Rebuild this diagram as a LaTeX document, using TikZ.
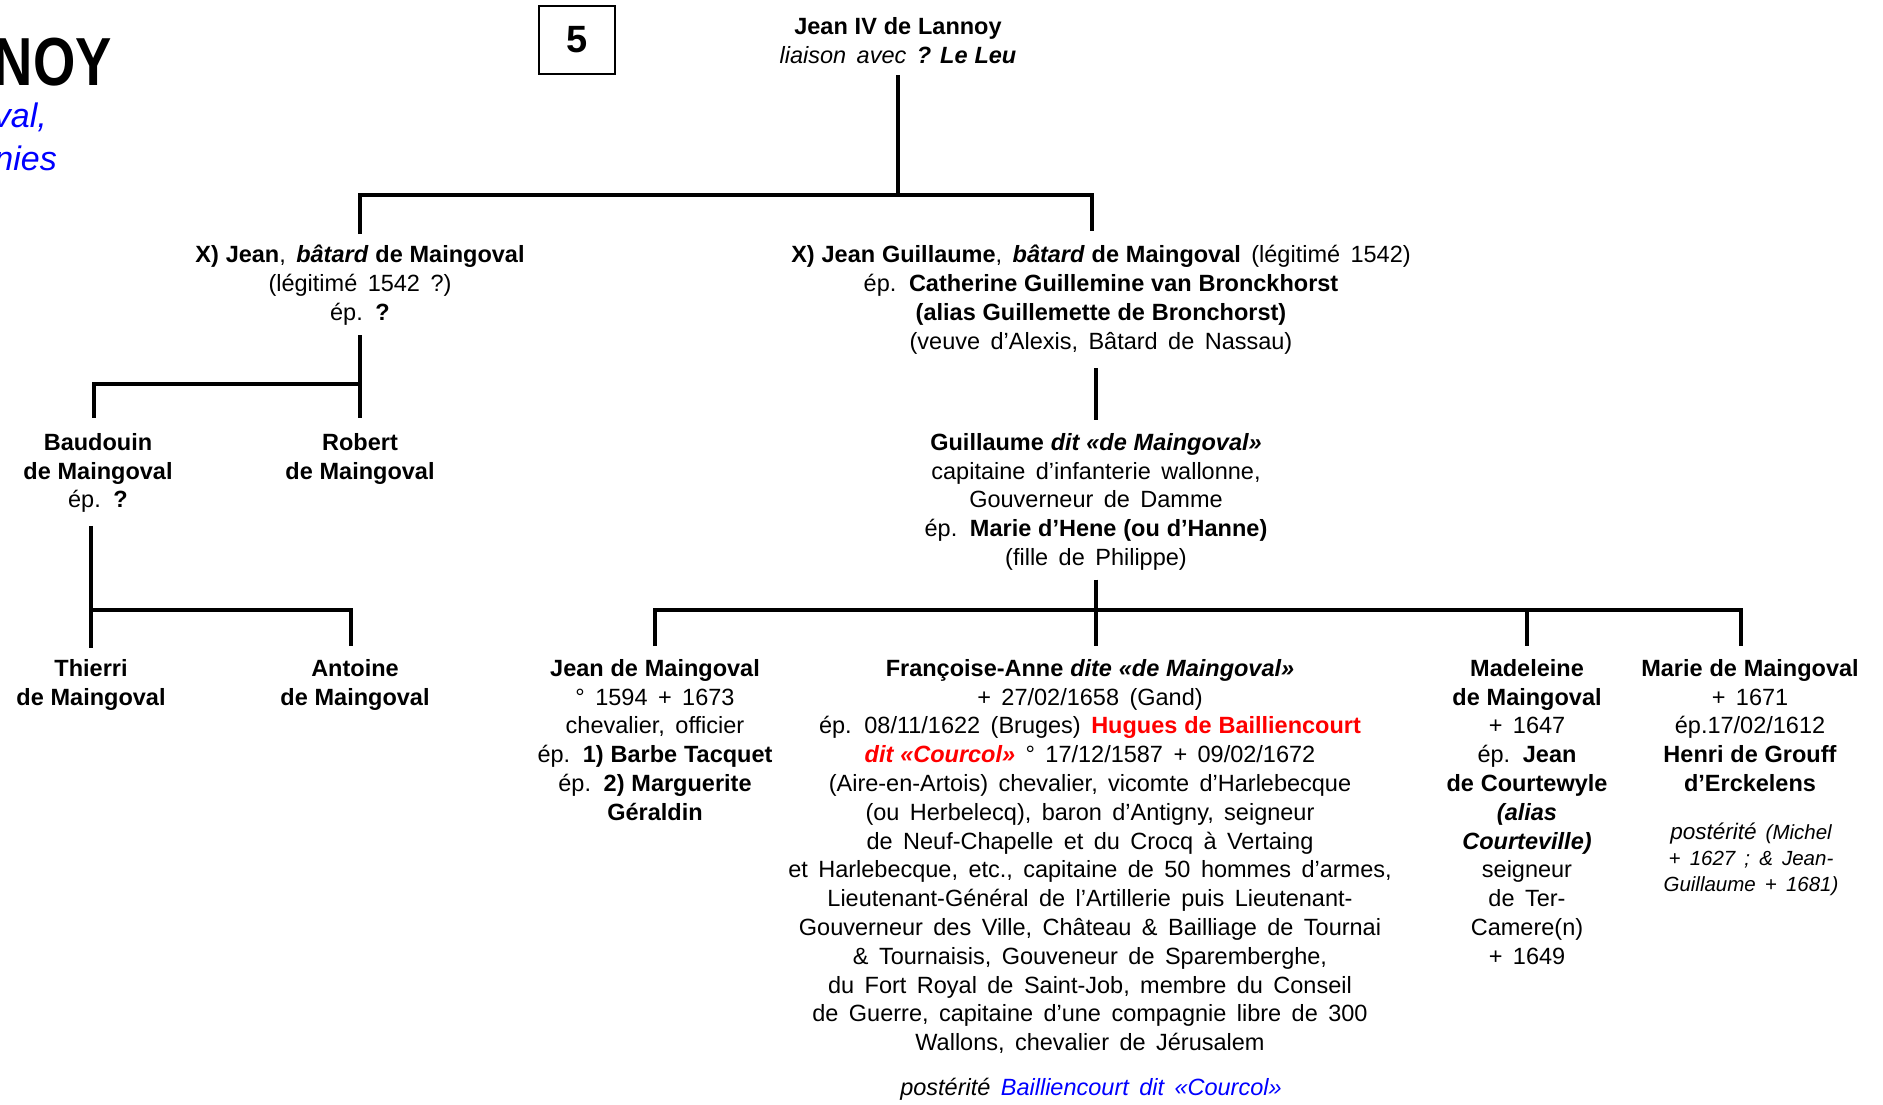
\documentclass[tikz,border=0pt]{standalone}
\usepackage{fontspec}
\setmainfont[WordSpace=1.6, BoldFeatures={WordSpace=1.05}, BoldItalicFeatures={WordSpace=1.05}]{Liberation Sans}
\newfontfamily\titlefont[FakeStretch=0.8]{Liberation Sans}
\begin{document}
\begin{tikzpicture}[x=1pt, y=-1pt,
    font=\fontsize{23.5}{28.8}\selectfont,
    person/.style={align=center, anchor=north, inner sep=0pt},
    tree/.style={line width=3.5pt}]
    \useasboundingbox (0,0) rectangle (1883,1104);
    \clip (0,0) rectangle (1883,1104);

    % Title (cut at the left edge)
    \node[anchor=base east, inner sep=0pt, font=\titlefont\fontsize{68}{70}\selectfont\bfseries] (title) at (112,85) {NOY};
    \node[anchor=base east, inner sep=0pt, blue, font=\fontsize{34}{40}\selectfont\itshape] (sub1) at (47,127) {val,};
    \node[anchor=base east, inner sep=0pt, blue, font=\fontsize{34}{40}\selectfont\itshape] (sub2) at (57,170) {nies};

    % Page number
    \node[draw, line width=2.5pt, minimum width=76, minimum height=68, inner sep=0pt,
        font=\fontsize{38}{40}\selectfont\bfseries] (num) at (577,40) {5};

    % Generation 0
    \node[person] (root) at (898,17) {\textbf{Jean IV de Lannoy}\\
        \textit{liaison avec \textbf{? Le Leu}}};

    % Generation 1
    \node[person] (jean) at (360,245) {\textbf{X) Jean}, \textbf{\textit{bâtard} de Maingoval}\\
        (légitimé 1542 ?)\\
        ép. \textbf{?}};
    \node[person] (jg) at (1101,245) {\textbf{X) Jean Guillaume}, \textbf{\textit{bâtard} de Maingoval} (légitimé 1542)\\
        ép. \textbf{Catherine Guillemine van Bronckhorst}\\
        \textbf{(alias Guillemette de Bronchorst)}\\
        (veuve d’Alexis, Bâtard de Nassau)};

    % Generation 2
    \node[person] (baudouin) at (98,433) {\textbf{Baudouin}\\ \textbf{de Maingoval}\\ ép. \textbf{?}};
    \node[person] (robert) at (360,433) {\textbf{Robert}\\ \textbf{de Maingoval}};
    \node[person] (guillaume) at (1096,433) {\textbf{Guillaume \textit{dit «de Maingoval»}}\\
        capitaine d’infanterie wallonne,\\
        Gouverneur de Damme\\
        ép. \textbf{Marie d’Hene (ou d’Hanne)}\\
        (fille de Philippe)};

    % Generation 3
    \node[person] (thierri) at (91,659) {\textbf{Thierri}\\ \textbf{de Maingoval}};
    \node[person] (antoine) at (355,659) {\textbf{Antoine}\\ \textbf{de Maingoval}};
    \node[person] (jeanm) at (655,659) {\textbf{Jean de Maingoval}\\
        ° 1594 + 1673\\
        chevalier, officier\\
        ép. \textbf{1) Barbe Tacquet}\\
        ép. \textbf{2) Marguerite}\\
        \textbf{Géraldin}};
    \node[person] (francoise) at (1090,659) {\textbf{Françoise-Anne \textit{dite «de Maingoval»}}\\
        + 27/02/1658 (Gand)\\
        ép. 08/11/1622 (Bruges) \textcolor{red}{\textbf{Hugues de Bailliencourt}}\\
        \textcolor{red}{\textbf{\textit{dit «Courcol»}}} ° 17/12/1587 + 09/02/1672\\
        (Aire-en-Artois) chevalier, vicomte d’Harlebecque\\
        (ou Herbelecq), baron d’Antigny, seigneur\\
        de Neuf-Chapelle et du Crocq à Vertaing\\
        et Harlebecque, etc., capitaine de 50 hommes d’armes,\\
        Lieutenant-Général de l’Artillerie puis Lieutenant-\\
        Gouverneur des Ville, Château \& Bailliage de Tournai\\
        \& Tournaisis, Gouveneur de Sparemberghe,\\
        du Fort Royal de Saint-Job, membre du Conseil\\
        de Guerre, capitaine d’une compagnie libre de 300\\
        Wallons, chevalier de Jérusalem};
    \node[anchor=base, inner sep=0pt] (posterite) at (1091,1095) {\textit{postérité}
        \textcolor{blue}{\textit{Bailliencourt dit «Courcol»}}};
    \node[person] (madeleine) at (1527,659) {\textbf{Madeleine}\\
        \textbf{de Maingoval}\\
        + 1647\\
        ép. \textbf{Jean}\\
        \textbf{de Courtewyle}\\
        \textbf{\textit{(alias}}\\
        \textbf{\textit{Courteville)}}\\
        seigneur\\
        de Ter-\\
        Camere(n)\\
        + 1649};
    \node[person] (marie) at (1750,659) {\textbf{Marie de Maingoval}\\
        + 1671\\
        ép.17/02/1612\\
        \textbf{Henri de Grouff}\\
        \textbf{d’Erckelens}};
    \node[person, font=\fontsize{20.5}{26}\selectfont\itshape] (mariepost) at (1751,823)
        {{\fontsize{22.5}{26}\selectfont postérité} (Michel\\ + 1627 ; \& Jean-\\ Guillaume + 1681)};

    % Bus points
    \coordinate (b1) at (898,195);
    \coordinate (b2) at (360,384);
    \coordinate (b3) at (91,610);
    \coordinate (b4) at (1096,610);
    \coordinate (b4r) at (1741,610);

    % Connectors
    \draw[tree] ([yshift=-12pt]root.south) -- (b1);
    \draw[tree] ([yshift=11pt]jean.north) |- (b1) -| ([xshift=-9pt,yshift=14pt]jg.north);

    \draw[tree] ([yshift=-10pt]jean.south) -- (b2) -- ([yshift=15pt]robert.north);
    \draw[tree] (b2) -| ([xshift=-4pt,yshift=15pt]baudouin.north);

    \draw[tree] ([xshift=-7pt,yshift=-13pt]baudouin.south) -- (b3) -- ([yshift=11pt]thierri.north);
    \draw[tree] (b3) -| ([xshift=-4pt,yshift=13pt]antoine.north);

    \draw[tree] ([xshift=-5pt,yshift=-14pt]jg.south) -- ([yshift=13pt]guillaume.north);

    \draw[tree] ([yshift=-9pt]guillaume.south) -- (b4) -- ([xshift=6pt,yshift=13pt]francoise.north);
    \draw[tree] ([yshift=13pt]jeanm.north) |- (b4r) -- ([xshift=-9pt,yshift=13pt]marie.north);
    \draw[tree] (madeleine.north |- b4) -- ([yshift=13pt]madeleine.north);
\end{tikzpicture}
\end{document}
